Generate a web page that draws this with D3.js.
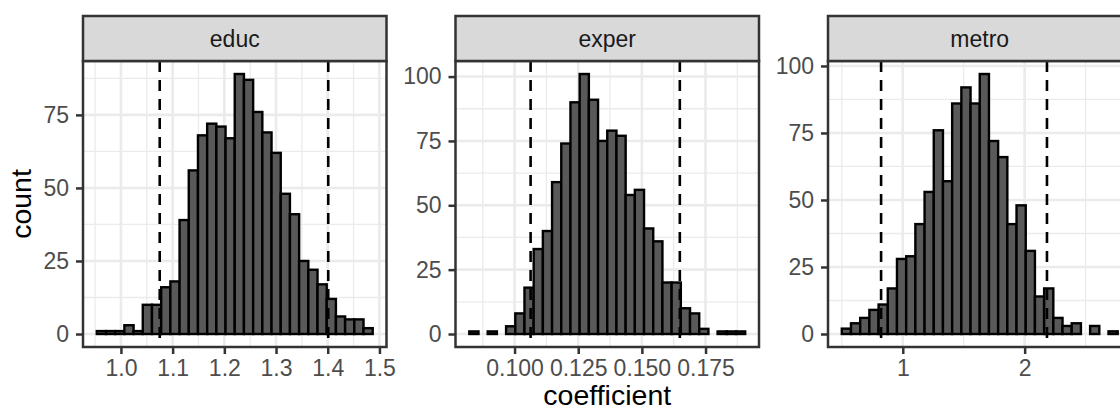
<!DOCTYPE html>
<html><head><meta charset="utf-8">
<script src="https://cdn.jsdelivr.net/npm/d3@7"></script>
<style>
body{margin:0;background:#fff}
svg{display:block}
text{font-family:"Liberation Sans", Arial, Helvetica, sans-serif}
</style>
</head><body>
<svg id="chart" width="1120" height="412"></svg>
<script>
// ---- data ----
const facets = ["educ", "exper", "metro"];
const educCounts  = [1,1,1,3,1,10,10,16,18,39,56,68,72,71,67,89,87,76,69,62,48,41,25,22,17,12,6,5,5,2];
const experCounts = [1,0,1,0,3,8,18,33,40,59,74,90,101,91,75,79,77,54,56,41,36,20,20,10,8,2,0,1,1,1];
const metroCounts = [2,4,6,9,11,17,28,29,41,53,76,57,86,92,86,97,72,66,41,48,31,14,17,6,3,4,0,3,0,1];
const binStarts = [0.9533, 0.08222, 0.4996];
const binWidths = [0.01779, 0.003612, 0.07546];
const ciLower = [1.075, 0.1063, 0.822];
const ciUpper = [1.401, 0.1649, 2.183];
const xTickValues = [[1.0, 1.1, 1.2, 1.3, 1.4, 1.5], [0.100, 0.125, 0.150, 0.175], [1, 2]];
const xTickLabels = [["1.0","1.1","1.2","1.3","1.4","1.5"], ["0.100","0.125","0.150","0.175"], ["1","2"]];
const yTickValues = [[0, 25, 50, 75], [0, 25, 50, 75, 100], [0, 25, 50, 75, 100]];
const xTitle = "coefficient";
const yTitle = "count";

const allCounts = [educCounts, experCounts, metroCounts];

// ---- layout ----
const svg = d3.select("#chart");
const W = 303.5, gap = 69, left0 = 83;
const stripTop = 16, stripH = 45;
const pTop = stripTop + stripH, pBot = 347;
const tickFont = 23, titleFont = 28.5;
const gridCol = "#EBEBEB", borderCol = "#333333", tickTextCol = "#4D4D4D";

function minorBreaks(majors, domain) {
  const step = majors[1] - majors[0];
  const ext = [majors[0] - step, ...majors, majors[majors.length - 1] + step];
  const out = [];
  for (let i = 0; i < ext.length - 1; i++) {
    const m = (ext[i] + ext[i + 1]) / 2;
    if (m >= domain[0] && m <= domain[1]) out.push(m);
  }
  return out;
}

facets.forEach((name, i) => {
  const counts = allCounts[i];
  const n = counts.length;
  const x0 = binStarts[i], w = binWidths[i];
  const x1 = x0 + n * w;
  const span = x1 - x0;
  const left = left0 + i * (W + gap);
  const x = d3.scaleLinear().domain([x0 - 0.05 * span, x1 + 0.05 * span]).range([left, left + W]);
  const ymax = d3.max(counts);
  const y = d3.scaleLinear().domain([-0.05 * ymax, 1.05 * ymax]).range([pBot, pTop]);

  const g = svg.append("g");
  g.append("rect").attr("x", left).attr("y", pTop).attr("width", W).attr("height", pBot - pTop).attr("fill", "#fff");

  const xMinor = minorBreaks(xTickValues[i], x.domain());
  const yMinor = minorBreaks(yTickValues[i], y.domain());
  g.selectAll(".xmin").data(xMinor).join("line")
    .attr("x1", d => x(d)).attr("x2", d => x(d)).attr("y1", pTop).attr("y2", pBot)
    .attr("stroke", gridCol).attr("stroke-width", 1.3);
  g.selectAll(".ymin").data(yMinor).join("line")
    .attr("y1", d => y(d)).attr("y2", d => y(d)).attr("x1", left).attr("x2", left + W)
    .attr("stroke", gridCol).attr("stroke-width", 1.3);
  g.selectAll(".xmaj").data(xTickValues[i]).join("line")
    .attr("x1", d => x(d)).attr("x2", d => x(d)).attr("y1", pTop).attr("y2", pBot)
    .attr("stroke", gridCol).attr("stroke-width", 2.6);
  g.selectAll(".ymaj").data(yTickValues[i]).join("line")
    .attr("y1", d => y(d)).attr("y2", d => y(d)).attr("x1", left).attr("x2", left + W)
    .attr("stroke", gridCol).attr("stroke-width", 2.6);

  const bins = counts.map((c, k) => ({ lo: x0 + k * w, hi: x0 + (k + 1) * w, c }));
  g.selectAll(".bar").data(bins).join("rect")
    .attr("x", d => x(d.lo)).attr("width", d => x(d.hi) - x(d.lo))
    .attr("y", d => y(d.c)).attr("height", d => y(0) - y(d.c))
    .attr("fill", "#595959").attr("stroke", "#000").attr("stroke-width", 2.4);

  g.selectAll(".ci").data([ciLower[i], ciUpper[i]]).join("line")
    .attr("x1", d => x(d)).attr("x2", d => x(d)).attr("y1", pTop).attr("y2", pBot)
    .attr("stroke", "#000").attr("stroke-width", 2.6).attr("stroke-dasharray", "11,8");

  g.append("rect").attr("x", left).attr("y", pTop).attr("width", W).attr("height", pBot - pTop)
    .attr("fill", "none").attr("stroke", borderCol).attr("stroke-width", 2.5);

  g.append("rect").attr("x", left).attr("y", stripTop).attr("width", W).attr("height", stripH)
    .attr("fill", "#D9D9D9").attr("stroke", borderCol).attr("stroke-width", 2.5);
  g.append("text").attr("x", left + W / 2).attr("y", stripTop + stripH / 2 + 8)
    .attr("text-anchor", "middle").attr("font-size", tickFont).attr("fill", "#1A1A1A").text(name);

  const xAxis = d3.axisBottom(x).tickValues(xTickValues[i]).tickFormat((d, k) => xTickLabels[i][k])
    .tickSizeOuter(0).tickSizeInner(7).tickPadding(6);
  const xa = g.append("g").attr("transform", `translate(0,${pBot})`).call(xAxis);
  xa.select(".domain").remove();
  xa.selectAll(".tick line").attr("stroke", borderCol).attr("stroke-width", 2.5);
  xa.selectAll(".tick text").attr("font-size", tickFont).attr("fill", tickTextCol)
    .attr("font-family", "Liberation Sans, Arial, sans-serif");

  const yAxis = d3.axisLeft(y).tickValues(yTickValues[i]).tickSizeOuter(0).tickSizeInner(7).tickPadding(7);
  const ya = g.append("g").attr("transform", `translate(${left},0)`).call(yAxis);
  ya.select(".domain").remove();
  ya.selectAll(".tick line").attr("stroke", borderCol).attr("stroke-width", 2.5);
  ya.selectAll(".tick text").attr("font-size", tickFont).attr("fill", tickTextCol)
    .attr("font-family", "Liberation Sans, Arial, sans-serif");
});

svg.append("text").attr("x", left0 + (3 * W + 2 * gap) / 2).attr("y", 405)
  .attr("text-anchor", "middle").attr("font-size", titleFont).attr("fill", "#000").text(xTitle);
svg.append("text").attr("transform", `translate(31,${(pTop + pBot) / 2}) rotate(-90)`)
  .attr("text-anchor", "middle").attr("font-size", titleFont).attr("fill", "#000").text(yTitle);
</script>
</body></html>
